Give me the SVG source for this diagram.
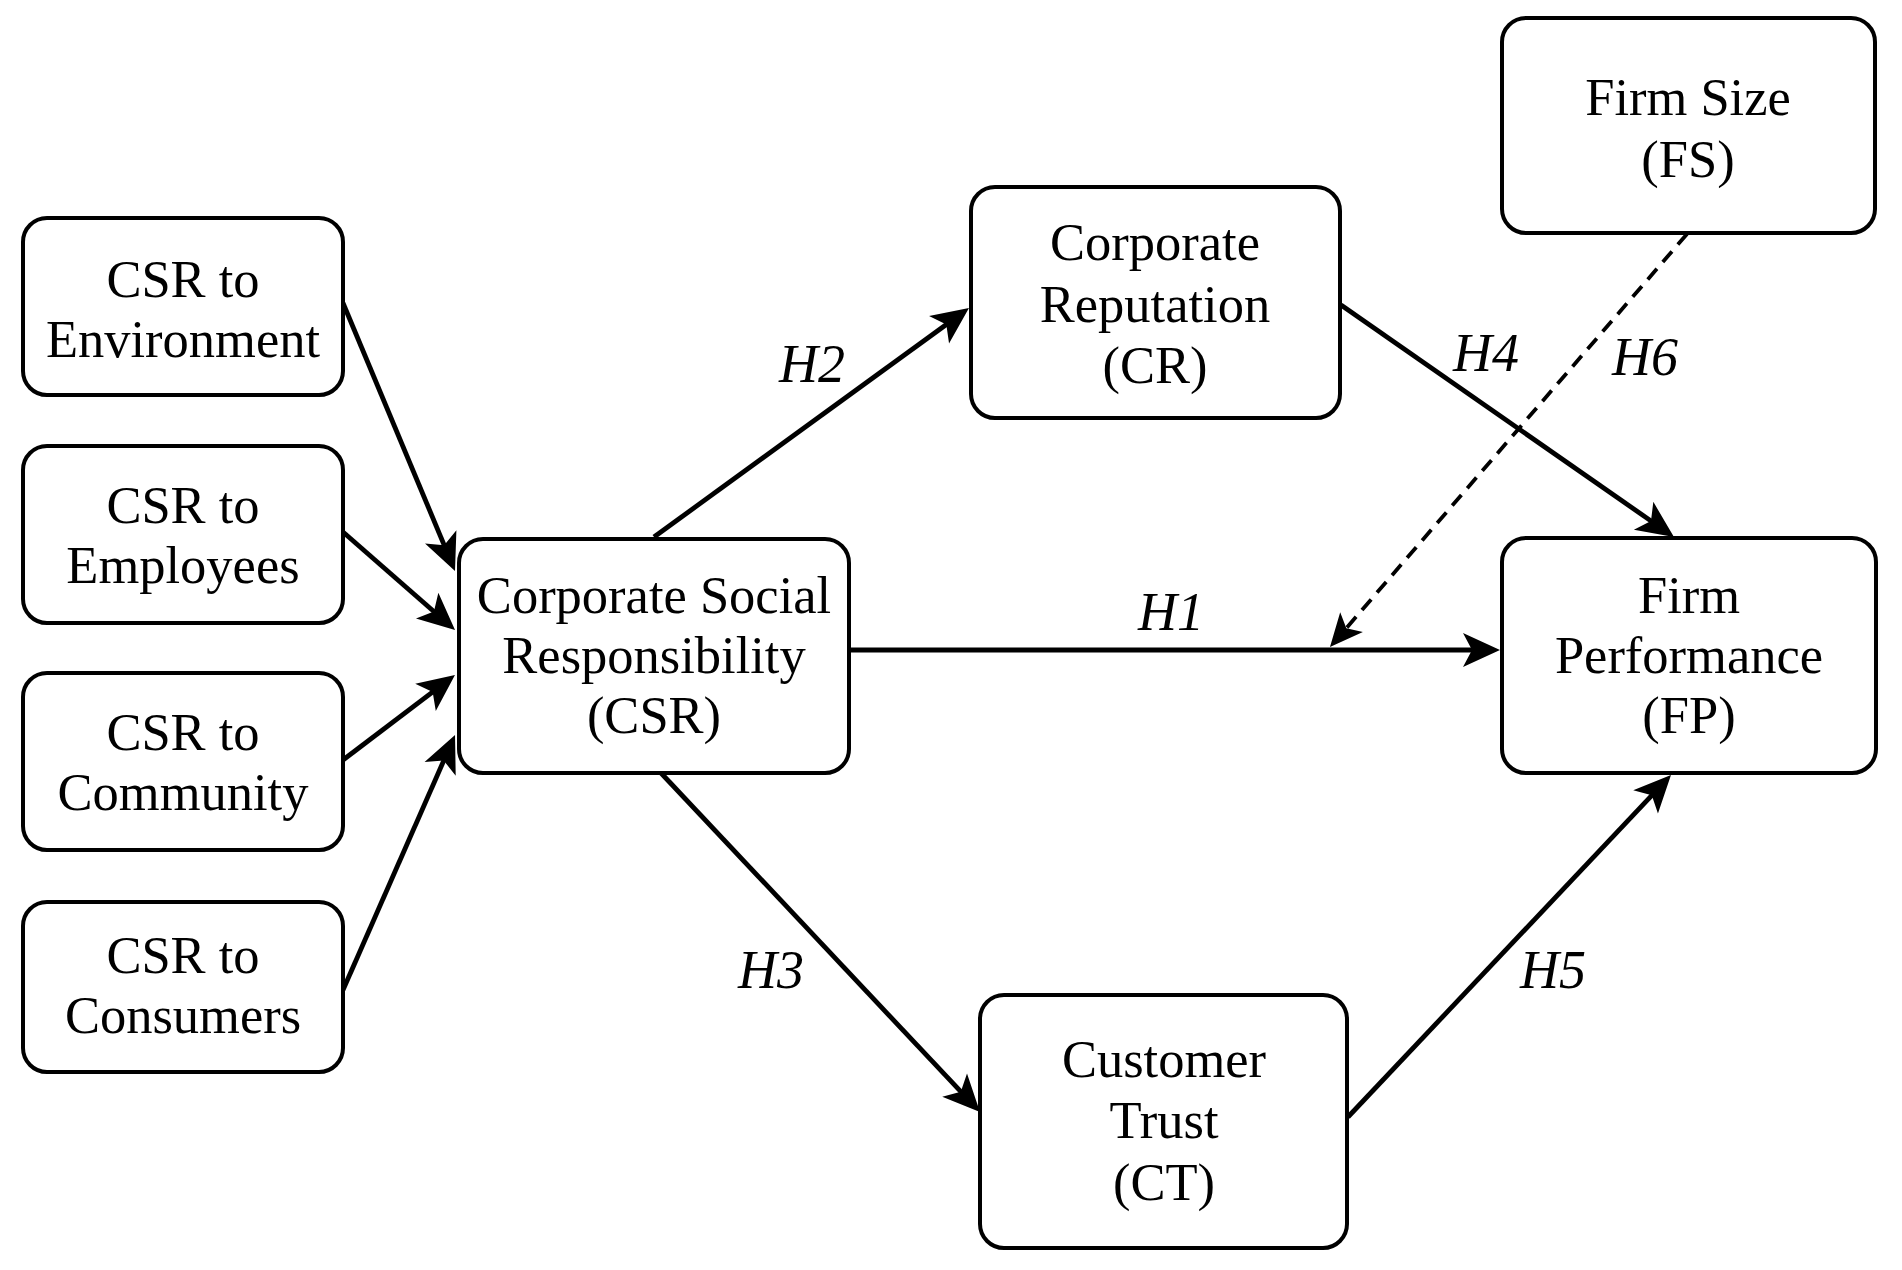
<svg xmlns="http://www.w3.org/2000/svg" width="1902" height="1270" viewBox="0 0 1902 1270">
<style>
.box{fill:#fff;stroke:#000;stroke-width:4}
.t{font-family:"Liberation Serif","Times New Roman",serif;font-size:52.5px;fill:#000;text-anchor:middle}
.h{font-family:"Liberation Serif","Times New Roman",serif;font-size:54px;font-style:italic;fill:#000}
.c{fill:none;stroke:#000;stroke-width:4.8}
.d{fill:none;stroke:#000;stroke-width:3.8;stroke-dasharray:14 9}
</style>
<defs>
<marker id="ah" viewBox="-38 -18 39 36" refX="-8" refY="0" markerWidth="39" markerHeight="36" markerUnits="userSpaceOnUse" orient="auto">
<path d="M0,0 L-37,-17 L-28,0 L-37,17 Z" fill="#000"/>
</marker>
<marker id="ahs" viewBox="-34 -16 35 32" refX="-8" refY="0" markerWidth="35" markerHeight="32" markerUnits="userSpaceOnUse" orient="auto">
<path d="M0,0 L-33,-15 L-25,0 L-33,15 Z" fill="#000"/>
</marker>
</defs>
<rect width="1902" height="1270" fill="#fff"/>
<g id="connectors">
<line class="c" x1="343" y1="303" x2="451.9" y2="563.6" marker-end="url(#ah)"/>
<line class="c" x1="343" y1="532" x2="449" y2="624.7" marker-end="url(#ah)"/>
<line class="c" x1="343" y1="760" x2="448.6" y2="679.8" marker-end="url(#ah)"/>
<line class="c" x1="343" y1="990" x2="451.8" y2="742.3" marker-end="url(#ah)"/>
<line class="c" x1="654" y1="537" x2="962.5" y2="312.7" marker-end="url(#ah)"/>
<line class="c" x1="849" y1="650" x2="1492" y2="650" marker-end="url(#ah)"/>
<line class="c" x1="661" y1="773" x2="974.5" y2="1106.2" marker-end="url(#ah)"/>
<line class="c" x1="1341" y1="305" x2="1667.4" y2="532.4" marker-end="url(#ah)"/>
<line class="c" x1="1348" y1="1117" x2="1665.5" y2="780.8" marker-end="url(#ah)"/>
<line class="d" x1="1687" y1="234" x2="1335.2" y2="641" marker-end="url(#ahs)"/>
<text class="h" x="1138" y="630">H1</text>
<text class="h" x="779" y="382">H2</text>
<text class="h" x="738" y="988">H3</text>
<text class="h" x="1453" y="371">H4</text>
<text class="h" x="1520" y="988">H5</text>
<text class="h" x="1612" y="375">H6</text>
</g>
<g id="env"><rect class="box" x="23" y="218" width="320" height="177" rx="24"/><text class="t" x="183" y="297">CSR to</text><text class="t" x="183" y="357">Environment</text></g>
<g id="emp"><rect class="box" x="23" y="446" width="320" height="177" rx="24"/><text class="t" x="183" y="523">CSR to</text><text class="t" x="183" y="583">Employees</text></g>
<g id="comm"><rect class="box" x="23" y="673" width="320" height="177" rx="24"/><text class="t" x="183" y="750">CSR to</text><text class="t" x="183" y="810">Community</text></g>
<g id="cons"><rect class="box" x="23" y="902" width="320" height="170" rx="24"/><text class="t" x="183" y="973">CSR to</text><text class="t" x="183" y="1033">Consumers</text></g>
<g id="csr"><rect class="box" x="459" y="539" width="390" height="234" rx="24"/><text class="t" x="654" y="613">Corporate Social</text><text class="t" x="654" y="673">Responsibility</text><text class="t" x="654" y="733">(CSR)</text></g>
<g id="cr"><rect class="box" x="971" y="187" width="369" height="231" rx="24"/><text class="t" x="1155" y="260">Corporate</text><text class="t" x="1155" y="322">Reputation</text><text class="t" x="1155" y="383">(CR)</text></g>
<g id="fs"><rect class="box" x="1502" y="18" width="373" height="215" rx="24"/><text class="t" x="1688" y="115">Firm Size</text><text class="t" x="1688" y="177">(FS)</text></g>
<g id="fp"><rect class="box" x="1502" y="538" width="374" height="235" rx="24"/><text class="t" x="1689" y="613">Firm</text><text class="t" x="1689" y="673">Performance</text><text class="t" x="1689" y="733">(FP)</text></g>
<g id="ct"><rect class="box" x="980" y="995" width="367" height="253" rx="24"/><text class="t" x="1164" y="1077">Customer</text><text class="t" x="1164" y="1138">Trust</text><text class="t" x="1164" y="1200">(CT)</text></g>
</svg>
